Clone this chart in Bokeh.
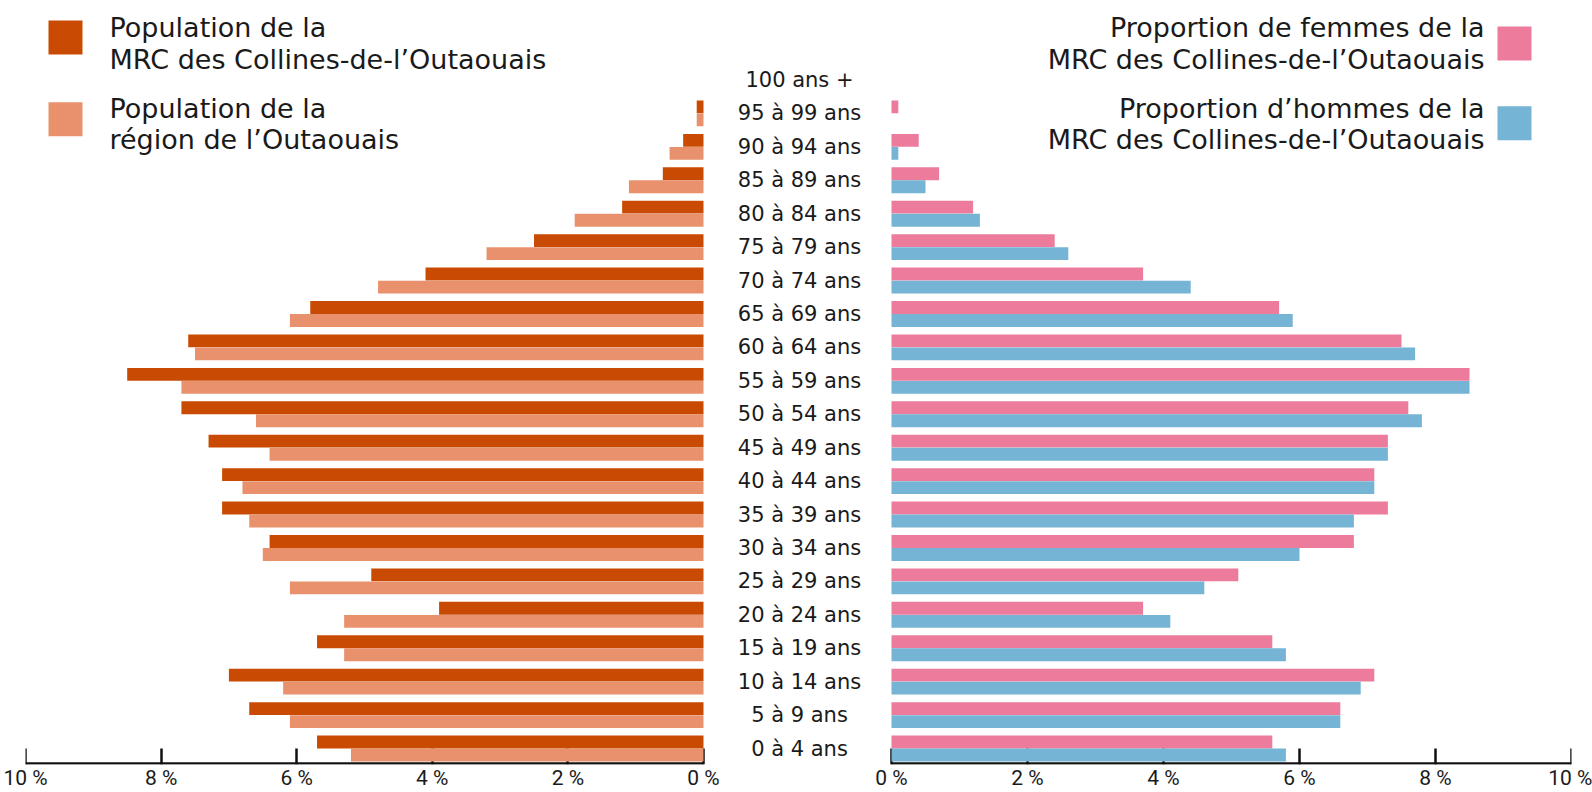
import numpy as np
from bokeh.plotting import figure
from bokeh.models import (Range1d, LinearAxis, FixedTicker, ColumnDataSource, BoxAnnotation,
                          Label, CustomJSTickFormatter)
from bokeh.transform import dodge
from bokeh.core.properties import value
from bokeh.embed import file_html
from bokeh.resources import INLINE

ages = ["0 à 4 ans", "5 à 9 ans", "10 à 14 ans", "15 à 19 ans", "20 à 24 ans",
        "25 à 29 ans", "30 à 34 ans", "35 à 39 ans", "40 à 44 ans", "45 à 49 ans",
        "50 à 54 ans", "55 à 59 ans", "60 à 64 ans", "65 à 69 ans", "70 à 74 ans",
        "75 à 79 ans", "80 à 84 ans", "85 à 89 ans", "90 à 94 ans", "95 à 99 ans",
        "100 ans +"]
mrc = [5.7, 6.7, 7.0, 5.7, 3.9, 4.9, 6.4, 7.1, 7.1, 7.3, 7.7, 8.5, 7.6, 5.8, 4.1, 2.5, 1.2, 0.6, 0.3, 0.1, 0.0]
region = [5.2, 6.1, 6.2, 5.3, 5.3, 6.1, 6.5, 6.7, 6.8, 6.4, 6.6, 7.7, 7.5, 6.1, 4.8, 3.2, 1.9, 1.1, 0.5, 0.1, 0.0]
femmes = [5.6, 6.6, 7.1, 5.6, 3.7, 5.1, 6.8, 7.3, 7.1, 7.3, 7.6, 8.5, 7.5, 5.7, 3.7, 2.4, 1.2, 0.7, 0.4, 0.1, 0.0]
hommes = [5.8, 6.6, 6.9, 5.8, 4.1, 4.6, 6.0, 6.8, 7.1, 7.3, 7.8, 8.5, 7.7, 5.9, 4.4, 2.6, 1.3, 0.5, 0.1, 0.0, 0.0]
tick_values = [0, 2, 4, 6, 8, 10]
legend_left = ["Population de la\nMRC des Collines-de-l\u2019Outaouais",
               "Population de la\nrégion de l\u2019Outaouais"]
legend_right = ["Proportion de femmes de la\nMRC des Collines-de-l\u2019Outaouais",
                "Proportion d\u2019hommes de la\nMRC des Collines-de-l\u2019Outaouais"]

C_MRC = "#C94A02"
C_REG = "#E8916C"
C_FEM = "#EC7B9C"
C_HOM = "#75B4D4"
TXT = "#1a1a1a"
FONT = "DejaVu Sans"

# layout geometry (pixels)
W, H = 1592, 792
FL, FR = 25, 1571          # frame left / right
FB = 765                   # frame bottom
PX_PER_PCT_L = 67.8        # left side pixels per percent
R0 = 891                   # right 0 % position
PITCH = 33.47              # pixels per age group
Y0_PX = 749                # centre of the first age group
right_pp = (FR - R0) / 10.0


def px2x(px):
    return 10 - (px - FL) / PX_PER_PCT_L


def py2y(py):
    return (Y0_PX - py) / PITCH


src = ColumnDataSource(dict(y=np.arange(len(ages)), age=ages, mrc=mrc, region=region,
                            femmes=femmes, hommes=hommes))

y_bottom = py2y(FB)
p = figure(width=W, height=H, output_backend="svg", toolbar_location=None,
           x_range=Range1d(10, px2x(FR)), y_range=Range1d(y_bottom, py2y(0)),
           min_border_left=FL, min_border_right=W - FR, min_border_top=0,
           min_border_bottom=H - FB, x_axis_location=None, y_axis_location=None)
p.extra_x_ranges = {"right": Range1d(-(R0 - FL) / right_pp, 10)}
p.grid.visible = False
p.outline_line_color = None
p.background_fill_color = "white"

off = 0.195
h = 0.385
p.hbar(y=dodge("y", off, range=p.y_range), left=0, right="mrc", height=h, source=src,
       fill_color=C_MRC, line_color=None)
p.hbar(y=dodge("y", -off, range=p.y_range), left=0, right="region", height=h, source=src,
       fill_color=C_REG, line_color=None)
p.hbar(y=dodge("y", off, range=p.y_range), left=0, right="femmes", height=h, source=src,
       fill_color=C_FEM, line_color=None, x_range_name="right")
p.hbar(y=dodge("y", -off, range=p.y_range), left=0, right="hommes", height=h, source=src,
       fill_color=C_HOM, line_color=None, x_range_name="right")

p.text(x=px2x(799), y="y", text="age", source=src, text_align="center", text_baseline="middle",
       text_font=value(FONT), text_font_size="21px", text_color=TXT)

blank = {v: "" for v in tick_values}
line_loc = y_bottom + 1.2 / PITCH
for rn in ["default", "right"]:
    # tick marks, drawn beneath the bars
    ticks_ax = LinearAxis(x_range_name=rn, ticker=FixedTicker(ticks=tick_values), bounds=(0, 10),
                          fixed_location=y_bottom, major_label_overrides=blank,
                          major_tick_in=16, major_tick_out=0, minor_tick_in=0, minor_tick_out=0,
                          axis_line_color=None, major_tick_line_width=2.5,
                          major_tick_line_color="#111111", major_label_text_font_size="1px")
    ticks_ax.level = "underlay"
    p.add_layout(ticks_ax, "below")
    # axis line
    line_ax = LinearAxis(x_range_name=rn, ticker=FixedTicker(ticks=tick_values), bounds=(0, 10),
                         fixed_location=line_loc, major_label_overrides=blank,
                         major_tick_in=0, major_tick_out=0, minor_tick_in=0, minor_tick_out=0,
                         axis_line_width=2.5, axis_line_color="#111111",
                         major_label_text_font_size="1px")
    p.add_layout(line_ax, "below")

# tick labels for both halves, on one axis in the bottom panel
right_ticks_x = [px2x(R0 + v * right_pp) for v in tick_values]
label_ticks = sorted(tick_values + right_ticks_x)
fmt = CustomJSTickFormatter(args=dict(FL=FL, S=PX_PER_PCT_L, R0=R0, RP=right_pp), code="""
    if (tick >= -0.001) { return Math.round(tick) + " %"; }
    const px = FL + (10 - tick) * S;
    return Math.round((px - R0) / RP) + " %";
""")
lab_ax = LinearAxis(ticker=FixedTicker(ticks=label_ticks), formatter=fmt,
                    major_tick_in=0, major_tick_out=0, minor_tick_in=0, minor_tick_out=0,
                    axis_line_color=None, major_label_standoff=1,
                    major_label_text_font="Roboto", major_label_text_font_size="21px",
                    major_label_text_color=TXT)
p.add_layout(lab_ax, "below")

# legends
SQ = 34
line_y = [27.5, 59, 108, 139]
for i, (txt, col) in enumerate(zip(legend_left, [C_MRC, C_REG])):
    top = [20, 102][i]
    p.add_layout(BoxAnnotation(left=px2x(48), right=px2x(48 + SQ), top=py2y(top),
                               bottom=py2y(top + SQ), fill_color=col, fill_alpha=1,
                               line_color=None))
    for j, line in enumerate(txt.split("\n")):
        p.add_layout(Label(x=px2x(109), y=py2y(line_y[i * 2 + j]), text=line,
                           text_font=FONT, text_font_size="27px", text_color=TXT,
                           text_baseline="middle", text_align="left"))

for i, (txt, col) in enumerate(zip(legend_right, [C_FEM, C_HOM])):
    top = [26, 106][i]
    p.add_layout(BoxAnnotation(left=px2x(1497), right=px2x(1497 + SQ), top=py2y(top),
                               bottom=py2y(top + SQ), fill_color=col, fill_alpha=1,
                               line_color=None))
    for j, line in enumerate(txt.split("\n")):
        p.add_layout(Label(x=px2x(1484), y=py2y(line_y[i * 2 + j]), text=line,
                           text_font=FONT, text_font_size="27px", text_color=TXT,
                           text_baseline="middle", text_align="right"))

open("out.html", "w").write(file_html(p, INLINE))
